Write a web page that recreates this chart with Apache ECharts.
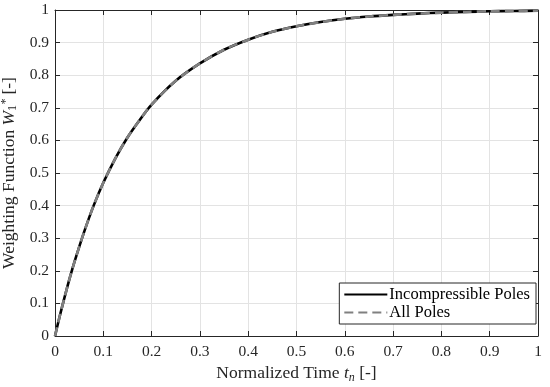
<!DOCTYPE html>
<html>
<head>
<meta charset="utf-8">
<script src="https://cdn.jsdelivr.net/npm/echarts@6/dist/echarts.min.js"></script>
<style>html,body{margin:0;padding:0;background:#fff;}#c{width:550px;height:387px;}</style>
</head>
<body>
<div id="c"></div>
<script>
// Normalized time samples and weighting function values
var tValues = [0, 0.01, 0.02, 0.03, 0.04, 0.06, 0.08, 0.1, 0.125, 0.15, 0.175, 0.2, 0.25, 0.3, 0.35, 0.4, 0.45, 0.5, 0.55, 0.6, 0.65, 0.7, 0.75, 0.8, 0.85, 0.9, 0.95, 1.0];
var incompressible = [0, 0.062, 0.12, 0.175, 0.226, 0.318, 0.4, 0.47, 0.545, 0.609, 0.662, 0.71, 0.783, 0.836, 0.878, 0.909, 0.933, 0.95, 0.963, 0.973, 0.98, 0.985, 0.989, 0.992, 0.994, 0.996, 0.997, 0.998];
var allPoles = [0, 0.062, 0.12, 0.175, 0.226, 0.318, 0.4, 0.47, 0.545, 0.609, 0.662, 0.71, 0.783, 0.836, 0.878, 0.909, 0.933, 0.95, 0.963, 0.973, 0.98, 0.985, 0.989, 0.992, 0.994, 0.996, 0.997, 0.998];
var xTickLabels = ['0', '0.1', '0.2', '0.3', '0.4', '0.5', '0.6', '0.7', '0.8', '0.9', '1'];
var yTickLabels = ['0', '0.1', '0.2', '0.3', '0.4', '0.5', '0.6', '0.7', '0.8', '0.9', '1'];
var seriesNames = ['Incompressible Poles', 'All Poles'];

var FONT = '"Liberation Serif", "DejaVu Serif", serif';
var AX = '#262626';

function pairs(xs, ys) { return xs.map(function (x, i) { return [x, ys[i]]; }); }
function tickFmt(arr) { return function (v) { return arr[Math.round(v * 10)]; }; }

var chart = echarts.init(document.getElementById('c'), null, { renderer: 'canvas' });
chart.setOption({
  animation: false,
  backgroundColor: '#fff',
  grid: { left: 55, right: 12, top: 10, bottom: 51, containLabel: false, outerBoundsMode: 'none' },
  xAxis: [{
    type: 'value', min: 0, max: 1, interval: 0.1,
    name: '{n|Normalized Time }{i|t}{s|n}{n| [-]}',
    nameLocation: 'middle', nameGap: 27,
    nameTextStyle: {
      rich: {
        n: { fontFamily: FONT, fontSize: 17.5, color: '#262626' },
        i: { fontFamily: FONT, fontSize: 17.5, fontStyle: 'italic', color: '#262626' },
        s: { fontFamily: FONT, fontSize: 12, fontStyle: 'italic', color: '#262626', verticalAlign: 'bottom', padding: [7, 0, 0, 0] }
      }
    },
    axisLine: { show: true, onZero: false, lineStyle: { color: AX, width: 1 } },
    axisTick: { show: true, inside: true, length: 5, lineStyle: { color: AX } },
    axisLabel: { formatter: tickFmt(xTickLabels), fontFamily: FONT, fontSize: 15.5, color: '#262626', margin: 8 },
    splitLine: { show: true, lineStyle: { color: '#e3e3e3', width: 1 } }
  }, {
    type: 'value', min: 0, max: 1, interval: 0.1, position: 'top',
    axisLine: { show: true, onZero: false, lineStyle: { color: AX, width: 1 } },
    axisTick: { show: true, inside: true, length: 5, lineStyle: { color: AX } },
    axisLabel: { show: false }, splitLine: { show: false }
  }],
  yAxis: [{
    type: 'value', min: 0, max: 1, interval: 0.1,
    name: '{n|Weighting Function }{i|W}{s|1}{p|*}{n| [-]}',
    nameLocation: 'middle', nameGap: 31, nameRotate: 90,
    nameTextStyle: {
      rich: {
        n: { fontFamily: FONT, fontSize: 17.5, color: '#262626' },
        i: { fontFamily: FONT, fontSize: 17.5, fontStyle: 'italic', color: '#262626' },
        s: { fontFamily: FONT, fontSize: 12, color: '#262626', verticalAlign: 'bottom', padding: [7, 0, 0, 0] },
        p: { fontFamily: FONT, fontSize: 12, fontStyle: 'italic', color: '#262626', verticalAlign: 'top', padding: [0, 0, 7, 0] }
      }
    },
    axisLine: { show: true, onZero: false, lineStyle: { color: AX, width: 1 } },
    axisTick: { show: true, inside: true, length: 5, lineStyle: { color: AX } },
    axisLabel: { formatter: tickFmt(yTickLabels), fontFamily: FONT, fontSize: 15.5, color: '#262626', margin: 6 },
    splitLine: { show: true, lineStyle: { color: '#e3e3e3', width: 1 } }
  }, {
    type: 'value', min: 0, max: 1, interval: 0.1, position: 'right',
    axisLine: { show: true, onZero: false, lineStyle: { color: AX, width: 1 } },
    axisTick: { show: true, inside: true, length: 5, lineStyle: { color: AX } },
    axisLabel: { show: false }, splitLine: { show: false }
  }],
  legend: {
    orient: 'vertical', right: 14, top: 283,
    backgroundColor: '#fff', borderColor: '#262626', borderWidth: 1, borderRadius: 0,
    padding: [3, 6, 3, 4], itemGap: 1, itemWidth: 43, itemHeight: 16,
    itemStyle: { opacity: 0 },
    textStyle: { fontFamily: FONT, fontSize: 16.5, color: '#000', padding: [0, 0, 0, -3] },
    data: seriesNames
  },
  series: [{
    name: seriesNames[0], type: 'line', xAxisIndex: 0, yAxisIndex: 0,
    data: pairs(tValues, incompressible), smooth: 0.3, showSymbol: false, symbol: 'none',
    lineStyle: { color: '#000', width: 2.6, type: 'solid' }, itemStyle: { color: '#000' }
  }, {
    name: seriesNames[1], type: 'line', xAxisIndex: 0, yAxisIndex: 0,
    data: pairs(tValues, allPoles), smooth: 0.3, showSymbol: false, symbol: 'none',
    lineStyle: { color: '#808080', width: 2.6, type: [9, 5] }, itemStyle: { color: '#808080' }
  }]
});
</script>
</body>
</html>
